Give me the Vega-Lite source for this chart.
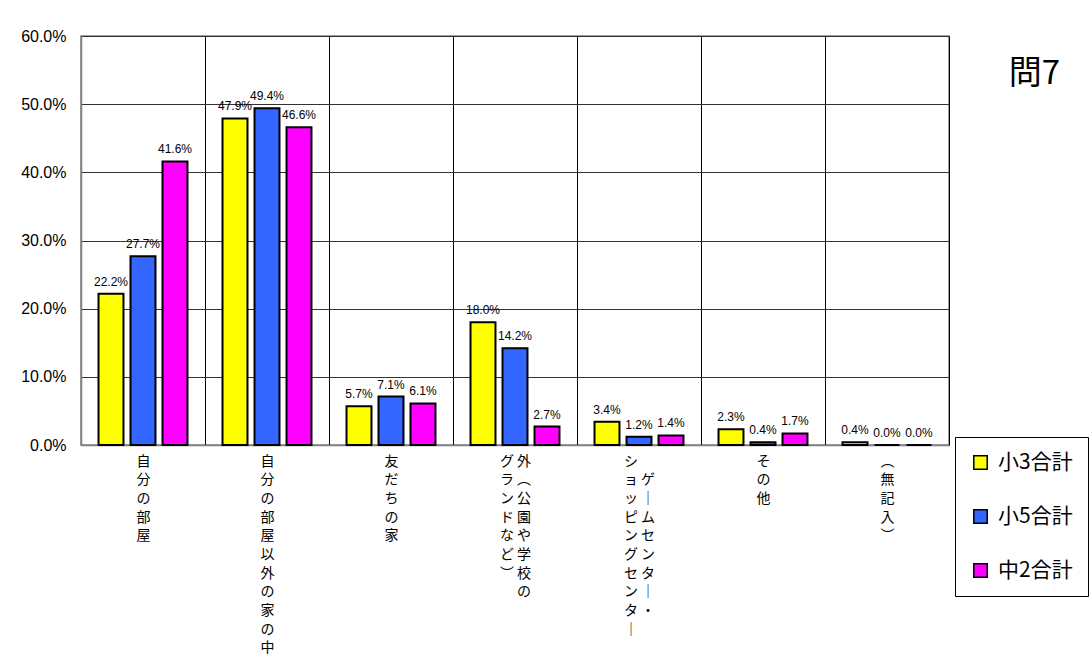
{
  "$schema": "https://vega.github.io/schema/vega-lite/v6.json",
  "autosize": {"type": "none"},
  "width": 868,
  "height": 409,
  "padding": {"left": 81, "top": 36, "right": 143, "bottom": 221},
  "background": "white",
  "title": {
    "text": "問7",
    "orient": "top",
    "anchor": "end",
    "frame": "group",
    "font": "Noto Sans CJK JP",
    "fontSize": 33,
    "fontWeight": "normal",
    "color": "black",
    "baseline": "alphabetic",
    "offset": 0,
    "dx": 111,
    "dy": 89
  },
  "data": {
    "values": [
      {"cat": "自分の部屋", "series": "小3合計", "value": 0.222},
      {"cat": "自分の部屋", "series": "小5合計", "value": 0.277},
      {"cat": "自分の部屋", "series": "中2合計", "value": 0.416},
      {"cat": "自分の部屋以外の家の中", "series": "小3合計", "value": 0.479},
      {"cat": "自分の部屋以外の家の中", "series": "小5合計", "value": 0.494},
      {"cat": "自分の部屋以外の家の中", "series": "中2合計", "value": 0.466},
      {"cat": "友だちの家", "series": "小3合計", "value": 0.057},
      {"cat": "友だちの家", "series": "小5合計", "value": 0.071},
      {"cat": "友だちの家", "series": "中2合計", "value": 0.061},
      {"cat": "外（公園や学校のグランドなど）", "series": "小3合計", "value": 0.18},
      {"cat": "外（公園や学校のグランドなど）", "series": "小5合計", "value": 0.142},
      {"cat": "外（公園や学校のグランドなど）", "series": "中2合計", "value": 0.027},
      {"cat": "ゲームセンター・ショッピングセンター", "series": "小3合計", "value": 0.034},
      {"cat": "ゲームセンター・ショッピングセンター", "series": "小5合計", "value": 0.012},
      {"cat": "ゲームセンター・ショッピングセンター", "series": "中2合計", "value": 0.014},
      {"cat": "その他", "series": "小3合計", "value": 0.023},
      {"cat": "その他", "series": "小5合計", "value": 0.004},
      {"cat": "その他", "series": "中2合計", "value": 0.017},
      {"cat": "（無記入）", "series": "小3合計", "value": 0.004},
      {"cat": "（無記入）", "series": "小5合計", "value": 0.0},
      {"cat": "（無記入）", "series": "中2合計", "value": 0.0}
    ]
  },
  "encoding": {
    "x": {
      "field": "cat",
      "type": "nominal",
      "sort": ["自分の部屋", "自分の部屋以外の家の中", "友だちの家", "外（公園や学校のグランドなど）", "ゲームセンター・ショッピングセンター", "その他", "（無記入）"],
      "scale": {"paddingInner": 0, "paddingOuter": 0},
      "axis": {
        "title": null,
        "ticks": false,
        "grid": true,
        "tickBand": "extent",
        "gridColor": "black",
        "gridWidth": 1,
        "domainColor": "#808080",
        "domainWidth": 1.5,
        "labelAngle": 0,
        "labelAlign": "center",
        "labelBaseline": "top",
        "labelPadding": 9,
        "labelFont": "Noto Sans CJK JP",
        "labelFontSize": 14,
        "labelLineHeight": 18.7,
        "labelColor": "black",
        "labelLimit": 400,
        "labelOverlap": false,
        "labelExpr": "!isValid(datum.value) ? '' : datum.value == '外（公園や学校のグランドなど）' ? ['グ 外','ラ ︵','ン 公','ド 園','な や','ど 学','︶ 校','\u200b　 の'] : datum.value == 'ゲームセンター・ショッピングセンター' ? ['シ 　\u200b','ョ ゲ','ッ ｜','ピ ム','ン セ','グ ン','セ タ','ン ｜','タ ・','｜ 　\u200b'] : datum.value == '（無記入）' ? ['︵','無','記','入','︶'] : split(datum.value, '')"
      }
    },
    "xOffset": {
      "field": "series",
      "type": "nominal",
      "sort": ["小3合計", "小5合計", "中2合計"],
      "scale": {"paddingInner": 0.22, "paddingOuter": 0.5475}
    },
    "y": {
      "field": "value",
      "type": "quantitative",
      "scale": {"domain": [0, 0.6], "nice": false},
      "axis": {
        "title": null,
        "values": [0, 0.1, 0.2, 0.3, 0.4, 0.5, 0.6],
        "format": ".1%",
        "ticks": false,
        "grid": true,
        "gridColor": "#333333",
        "gridWidth": 1,
        "domainColor": "#808080",
        "domainWidth": 1.5,
        "labelPadding": 15,
        "labelFont": "Liberation Sans",
        "labelFontSize": 16,
        "labelColor": "black"
      }
    }
  },
  "layer": [
    {
      "mark": {"type": "bar", "stroke": "black", "strokeWidth": 2},
      "encoding": {
        "color": {
          "field": "series",
          "type": "nominal",
          "scale": {"domain": ["小3合計", "小5合計", "中2合計"], "range": ["#FFFF00", "#3366FF", "#FF00FF"]},
          "legend": {
            "title": null,
            "orient": "none",
            "legendX": 874,
            "legendY": 401,
            "direction": "vertical",
            "strokeColor": "black",
            "fillColor": "white",
            "padding": 15,
            "symbolType": "square",
            "symbolSize": 180,
            "symbolStrokeColor": "black",
            "symbolStrokeWidth": 1.5,
            "symbolOpacity": 1,
            "labelFont": "Noto Sans CJK JP",
            "labelFontSize": 21,
            "labelColor": "black",
            "labelOffset": 7,
            "rowPadding": 32
          }
        }
      }
    },
    {
      "mark": {"type": "text", "baseline": "bottom", "dy": -5, "font": "Liberation Sans", "fontSize": 12, "color": "black"},
      "encoding": {
        "text": {"field": "value", "type": "quantitative", "format": ".1%"}
      }
    }
  ],
  "config": {
    "view": {"stroke": "#808080", "strokeWidth": 1.5}
  }
}
